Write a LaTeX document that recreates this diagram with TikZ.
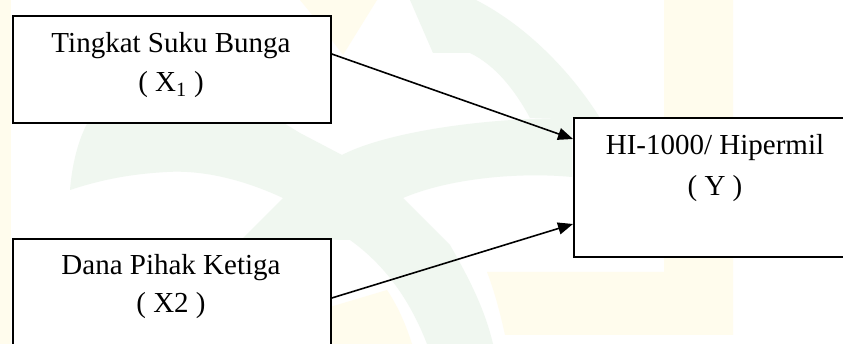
\documentclass[tikz,border=0pt]{standalone}
\usepackage{fontspec}
\setmainfont{Liberation Serif}
\usetikzlibrary{arrows.meta}
\definecolor{wmgreen}{RGB}{240,247,240}
\definecolor{wmyellow}{RGB}{255,252,237}
\begin{document}
\begin{tikzpicture}[x=1pt,y=-1pt,
  box/.style={draw=black, line width=1.8pt, fill=white, inner sep=0pt, anchor=north west},
  lbl/.style={inner sep=0pt, anchor=base, font=\fontsize{29}{35}\selectfont},
  link/.style={line width=1.6pt, -{Triangle[length=15pt,width=12pt]}}]
\useasboundingbox (0,0) rectangle (843,344);
\clip (0,0) rectangle (843,344);
\fill[white] (0,0) rectangle (843,344);

% faint background emblem
\fill[wmyellow] (0,0) rectangle (11,344);
\fill[wmyellow] (300,0) -- (377,0) -- (343,55) -- (318,22) -- cycle;
\fill[wmyellow] (664,0) -- (733,0) -- (733,335) -- (505,335)
  .. controls (500,312) and (494,290) .. (487,272) -- (664,272) -- cycle;
\fill[wmyellow] (330,307) -- (387,290)
  .. controls (397,305) and (405,322) .. (412,344) -- (330,344) -- cycle;
\fill[wmgreen] (410,0) -- (476,0) .. controls (525,25) and (570,70) .. (600,118)
  -- (530,118) .. controls (515,90) and (495,65) .. (470,53) -- (433,53) -- cycle;
\fill[wmgreen] (88,122) -- (282,122) -- (300,133) -- (342,155)
  .. controls (380,135) and (470,118) .. (572,118) -- (572,177)
  .. controls (520,172) and (450,178) .. (403,198) -- (450,245)
  .. controls (470,280) and (485,310) .. (493,344) -- (427,344)
  .. controls (410,300) and (385,265) .. (350,240) -- (243,238) -- (283,198)
  .. controls (240,178) and (200,170) .. (167,172)
  .. controls (130,174) and (100,180) .. (70,190)
  .. controls (72,165) and (78,140) .. (88,122) -- cycle;

% boxes
\node[box, minimum width=318pt, minimum height=107pt] (b1) at (12,15) {};
\node[box, minimum width=318pt, minimum height=125pt] (b2) at (12,238) {};
\node[box, minimum width=290pt, minimum height=139pt] (by) at (573,117) {};

% labels
\node[lbl] (t1a) at (171,53) {Tingkat Suku Bunga};
\node[lbl] (t1b) at (171,92) {( X\textsubscript{1} )};
\node[lbl] (t2a) at (171,275) {Dana Pihak Ketiga};
\node[lbl] (t2b) at (171,313) {( X2 )};
\node[lbl] (tya) at (715,155) {HI-1000/ Hipermil};
\node[lbl] (tyb) at (715,196) {( Y )};

% arrows
\draw[link] ([yshift=-39pt]b1.north east) -- ([yshift=-22pt]by.north west);
\draw[link] ([yshift=-60pt]b2.north east) -- ([yshift=-107pt]by.north west);
\end{tikzpicture}
\end{document}
